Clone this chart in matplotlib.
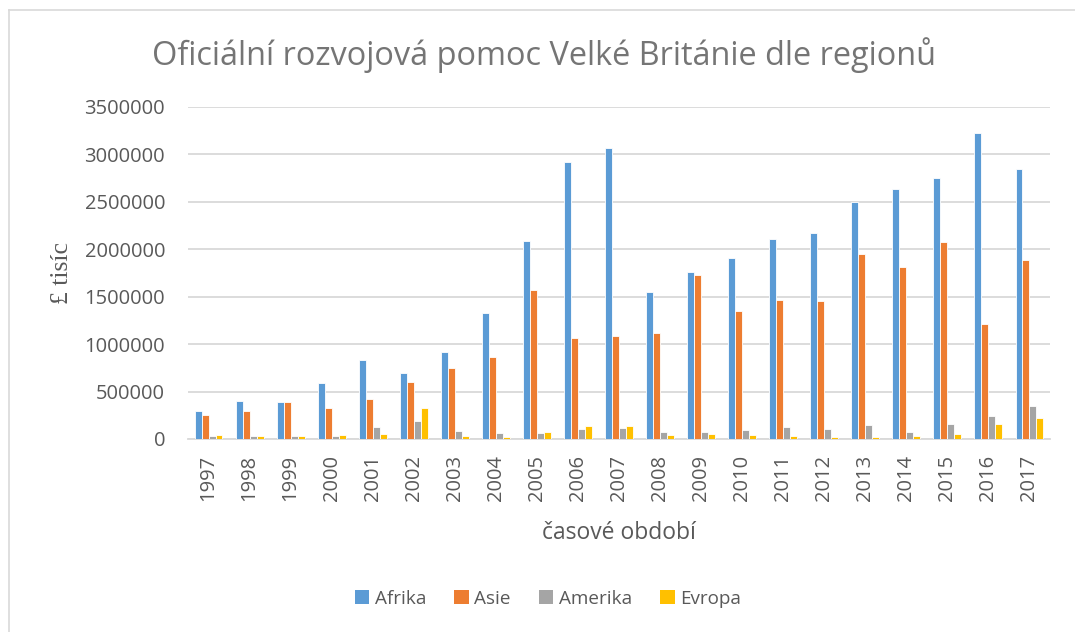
import numpy as np
import matplotlib
matplotlib.use("Agg")
import matplotlib.pyplot as plt
from matplotlib.lines import Line2D
from matplotlib.patches import Patch

# data (thousands of GBP)
years = [str(y) for y in range(1997, 2018)]
afrika = [298000, 400000, 393000, 593000, 835000, 698000, 922000, 1326000, 2085000, 2922000,
          3066000, 1547000, 1758000, 1909000, 2110000, 2176000, 2503000, 2634000, 2753000,
          3228000, 2845000]
asie = [256000, 295000, 393000, 322000, 421000, 603000, 751000, 865000, 1575000, 1069000,
        1090000, 1115000, 1733000, 1354000, 1466000, 1459000, 1948000, 1814000, 2081000,
        1213000, 1888000]
amerika = [27000, 27000, 28000, 35000, 122000, 193000, 87000, 67000, 60000, 109000,
           119000, 70000, 74000, 98000, 130000, 105000, 148000, 74000, 158000, 243000, 348000]
evropa = [45000, 35000, 35000, 45000, 48000, 330000, 35000, 21000, 77000, 134000,
          134000, 39000, 53000, 46000, 32000, 21000, 21000, 32000, 56000, 158000, 222000]

series = [("Afrika", afrika, "#5B9BD5"), ("Asie", asie, "#ED7D31"),
          ("Amerika", amerika, "#A5A5A5"), ("Evropa", evropa, "#FFC000")]

txt = "#595959"
grid = "#D9D9D9"
plt.rcParams['font.family'] = ['Open Sans', 'DejaVu Sans']

fig = plt.figure(figsize=(10.75, 6.32), dpi=100)
ax = fig.add_axes([188 / 1075, 1 - 439 / 632, 862 / 1075, 332 / 632])

x = np.arange(len(years))
w = 0.17
for i, (name, vals, col) in enumerate(series):
    ax.bar(x + (i - 1.5) * w, vals, w, color=col, edgecolor="white", linewidth=0.6,
           label=name, zorder=3)

ax.set_xlim(-0.5, len(years) - 0.5)
ax.set_ylim(0, 3500000)
ax.set_yticks(np.arange(0, 3500001, 500000))
ax.set_yticklabels([str(v) for v in range(0, 3500001, 500000)])
ax.set_xticks(x)
ax.set_xticklabels(years, rotation=90)
ax.tick_params(axis="both", length=0, labelsize=14.5, labelcolor=txt)
ax.tick_params(axis="y", pad=16.5)
ax.tick_params(axis="x", pad=11.5)
ax.grid(axis="y", color=grid, linewidth=1.3, zorder=0)
for s in ["top", "right", "left"]:
    ax.spines[s].set_visible(False)
ax.spines["bottom"].set_color(grid)
ax.spines["bottom"].set_linewidth(1.3)

ax.set_xlabel("časové období", fontsize=16.5, color=txt, labelpad=14)
ax.set_ylabel("£ tisíc", fontsize=18.5, color=txt, family=["Liberation Serif", "DejaVu Serif"],
              labelpad=8)

fig.text(544 / 1075, 1 - 55 / 632, "Oficiální rozvojová pomoc Velké Británie dle regionů",
         ha="center", va="center", fontsize=23.4, color="#757575")

handles = [Patch(facecolor=c, label=n) for n, v, c in series]
fig.legend(handles=handles, loc="center", bbox_to_anchor=(548 / 1075, 1 - 599 / 632),
           ncol=4, frameon=False, fontsize=13.6, labelcolor=txt, handlelength=0.75,
           handleheight=0.75, handletextpad=0.3, columnspacing=1.5)

# chart area border (left and top visible in the crop)
fig.add_artist(Line2D([8.5 / 1075, 8.5 / 1075], [0, 1 - 9.5 / 632], color=grid, linewidth=1.2))
fig.add_artist(Line2D([8.5 / 1075, 1], [1 - 9.5 / 632, 1 - 9.5 / 632], color=grid, linewidth=1.2))

fig.savefig("out.png", dpi=100, facecolor="white")
